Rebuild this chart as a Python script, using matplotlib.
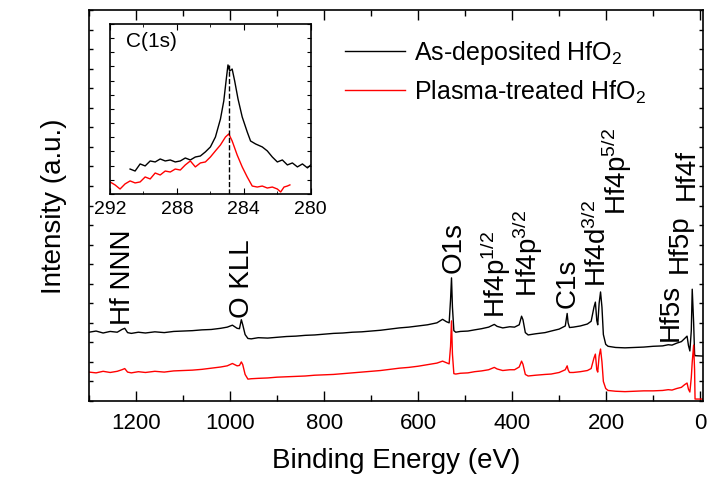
import numpy as np
import matplotlib
matplotlib.use("Agg")
import matplotlib.pyplot as plt
from matplotlib.ticker import MultipleLocator, NullFormatter

plt.rcParams['font.family'] = ['Liberation Sans', 'DejaVu Sans']
plt.rcParams['mathtext.fontset'] = 'custom'
plt.rcParams['mathtext.rm'] = 'Liberation Sans'
plt.rcParams['mathtext.it'] = 'Liberation Sans:italic'
plt.rcParams['mathtext.default'] = 'regular'

# survey spectrum, binding energy (eV) and intensity (a.u.)
energy = [1300, 1285, 1270, 1255, 1240, 1230, 1224, 1218, 1210, 1195, 1180, 1160,
          1140, 1120, 1100, 1080, 1060, 1040, 1020, 1006, 995, 985, 980, 976, 973,
          968, 962, 955, 940, 920, 900, 880, 860, 840, 820, 800, 780, 760, 740,
          720, 700, 680, 660, 640, 620, 600, 580, 560, 548, 540, 534, 531, 529,
          527, 524, 520, 510, 494, 480, 465, 450, 438, 432, 420, 405, 395, 385,
          380, 377, 372, 366, 350, 330, 317, 300, 287, 283, 281, 278, 270, 255,
          240, 232, 226, 223, 220, 218, 215, 212, 209, 206, 201, 196, 180, 160,
          140, 120, 100, 80, 68, 60, 50, 40, 33, 28, 25, 22, 19, 17, 14, 12, 11, -5]

as_deposited = [17.6, 17.9, 17.4, 17.8, 17.6, 18.3, 18.6, 17.5, 17.3, 17.6, 17.4, 17.7,
                17.5, 17.8, 17.9, 18.0, 18.2, 18.3, 18.6, 18.9, 19.4, 18.6, 18.5, 20.8, 19.5,
                17.0, 16.0, 15.9, 16.2, 16.1, 16.3, 16.5, 16.6, 16.8, 16.9, 17.1, 17.3, 17.4, 17.6,
                17.7, 17.9, 18.1, 18.4, 18.7, 18.9, 19.2, 19.5, 20.0, 20.9, 20.3, 20.0, 26.0, 31.5,
                24.0, 18.0, 17.6, 17.8, 17.9, 18.2, 18.5, 18.9, 19.6, 19.1, 18.7, 19.0, 18.9, 19.5,
                21.7, 20.8, 17.5, 16.9, 17.2, 17.5, 17.9, 18.4, 19.2, 22.4, 20.0, 18.8, 18.9, 19.2,
                19.7, 20.4, 24.0, 25.3, 20.6, 19.5, 25.0, 27.9, 24.0, 17.0, 14.5, 14.0, 13.7, 13.6,
                13.7, 13.8, 14.0, 14.1, 14.4, 14.3, 14.8, 15.2, 16.0, 16.6, 14.2, 12.8, 18.0, 28.6,
                20.0, 12.0, 11.6, 11.5]

plasma_treated = [7.4, 7.2, 7.6, 7.3, 7.6, 8.0, 8.3, 7.4, 7.2, 7.5, 7.3, 7.6,
                  7.4, 7.7, 7.8, 7.9, 8.1, 8.4, 8.7, 9.0, 9.6, 9.0, 9.1, 10.0, 9.3,
                  6.8, 5.6, 5.7, 5.8, 5.9, 6.1, 6.2, 6.3, 6.4, 6.6, 6.7, 6.8, 7.0, 7.2,
                  7.4, 7.6, 7.8, 8.1, 8.4, 8.6, 8.9, 9.3, 9.7, 10.2, 9.8, 9.5, 14.0, 20.5,
                  12.0, 7.0, 6.9, 7.1, 7.2, 7.5, 7.7, 8.0, 8.6, 8.2, 7.8, 8.0, 8.0, 8.7,
                  10.2, 9.4, 6.8, 6.4, 6.6, 6.8, 6.9, 7.3, 8.0, 9.0, 8.0, 7.3, 7.3, 7.5,
                  7.8, 8.3, 11.0, 12.0, 8.0, 7.4, 11.5, 13.3, 10.0, 5.0, 3.2, 2.7, 2.5, 2.4,
                  2.5, 2.6, 2.6, 2.7, 2.9, 2.8, 3.2, 3.5, 4.2, 4.6, 3.0, 2.3, 6.0, 10.0,
                  14.3, 8.0, 0.5, 0.5]

# C 1s detail region
c1s_energy_dep = [290.8, 290.5, 290.2, 289.9, 289.6, 289.3, 289.0, 288.7, 288.4, 288.1,
                  287.8, 287.5, 287.2, 286.9, 286.6, 286.3, 286.0, 285.7, 285.4, 285.2,
                  285.05, 284.95, 284.85, 284.7, 284.55, 284.35, 284.1, 283.8, 283.6, 283.3,
                  282.9, 282.6, 282.3, 282.0, 281.7, 281.4, 281.1, 280.8, 280.5, 280.2, 280.0]
c1s_dep = [1.76, 1.62, 2.12, 1.98, 2.33, 2.26, 2.47, 2.33, 2.40, 2.26,
           2.33, 2.54, 2.40, 2.61, 2.68, 2.97, 3.32, 4.02, 5.29, 6.57,
           8.12, 9.11, 8.68, 8.82, 7.98, 6.71, 5.44, 4.38, 3.74, 3.53,
           3.32, 3.04, 2.61, 2.26, 2.40, 2.05, 2.19, 1.91, 2.12, 1.84, 2.05]

c1s_energy_pt = [292.0, 291.7, 291.4, 291.1, 290.8, 290.5, 290.2, 289.9, 289.6, 289.3,
                 289.0, 288.7, 288.4, 288.1, 287.8, 287.5, 287.2, 286.9, 286.6, 286.3,
                 286.0, 285.7, 285.4, 285.1, 284.9, 284.7, 284.4, 284.1, 283.8, 283.5,
                 283.2, 282.9, 282.6, 282.3, 282.0, 281.8, 281.6, 281.4, 281.25]
c1s_pt = [0.85, 0.64, 0.35, 0.71, 0.92, 0.78, 0.85, 1.20, 1.06, 1.48,
          1.34, 1.62, 1.55, 1.76, 1.69, 2.05, 2.33, 1.91, 2.19, 2.26,
          2.61, 3.04, 3.46, 4.02, 4.24, 3.74, 2.75, 1.91, 1.20, 0.56,
          0.49, 0.56, 0.42, 0.49, 0.35, 0.14, 0.49, 0.56, 0.64]
c1s_center = 284.9

# peak labels: text, energy, height of text base
peak_labels = ['Hf NNN', 'O KLL', 'O1s', 'Hf4p$^{1/2}$', 'Hf4p$^{3/2}$', 'C1s',
               'Hf4d$^{3/2}$', 'Hf4p$^{5/2}$', 'Hf5s', 'Hf5p', 'Hf4f']
label_x = [1227, 974, 524, 434, 366, 281, 219, 178, 63, 44, 29]
label_y = [19.7, 21.5, 33.0, 21.5, 26.9, 24.0, 29.4, 47.8, 15.6, 33.0, 51.7]

fig = plt.figure(figsize=(7.07, 4.85), dpi=100)
ax = fig.add_axes([0.1259, 0.1711, 0.8685, 0.806])

ax.plot(energy, as_deposited, color='black', lw=1.0, label='As-deposited HfO$_2$')
ax.plot(energy, plasma_treated, color='red', lw=1.0, label='Plasma-treated HfO$_2$')

ax.set_xlim(1300, -6)
ax.set_ylim(0, 100)
ax.xaxis.set_major_locator(MultipleLocator(200))
ax.xaxis.set_minor_locator(MultipleLocator(100))
ax.yaxis.set_major_locator(MultipleLocator(5))
ax.yaxis.set_major_formatter(NullFormatter())
ax.tick_params(axis='x', which='major', direction='in', length=7, width=1,
               top=True, labelsize=16, pad=8)
ax.tick_params(axis='x', which='minor', direction='in', length=4, width=1, top=True)
ax.tick_params(axis='y', which='major', direction='in', length=3, width=1, right=True)
for s in ax.spines.values():
    s.set_linewidth(1.2)

ax.set_xlabel('Binding Energy (eV)', fontsize=20, labelpad=10)
ax.set_ylabel('Intensity (a.u.)', fontsize=20, labelpad=12)

for txt, x, y in zip(peak_labels, label_x, label_y):
    ax.text(x, y, txt, rotation=90, ha='center', va='bottom', fontsize=20)

ax.legend(loc='upper left', bbox_to_anchor=(0.38, 0.985), frameon=False,
          fontsize=18, handlelength=2.4, handletextpad=0.35, labelspacing=0.45)

# inset with the C 1s region
ins = fig.add_axes([0.1556, 0.598, 0.284, 0.3505])
ins.plot(c1s_energy_dep, c1s_dep, color='black', lw=1.0)
ins.plot(c1s_energy_pt, c1s_pt, color='red', lw=1.0)
ins.vlines(c1s_center, 0, max(c1s_dep), colors='black', linestyles='--', lw=1.0)
ins.set_xlim(292, 280)
ins.set_ylim(0, 12)
ins.xaxis.set_major_locator(MultipleLocator(4))
ins.xaxis.set_minor_locator(MultipleLocator(2))
ins.yaxis.set_major_locator(MultipleLocator(1))
ins.yaxis.set_major_formatter(NullFormatter())
ins.tick_params(axis='x', which='major', direction='in', length=4, top=True,
                labelsize=14, pad=4)
ins.tick_params(axis='x', which='minor', direction='in', length=2.5, top=True)
ins.tick_params(axis='y', direction='in', length=3, right=True)
for s in ins.spines.values():
    s.set_linewidth(1.2)
ins.text(0.08, 0.9, 'C(1s)', transform=ins.transAxes, fontsize=15, va='center')

fig.savefig('out.png', dpi=100)
